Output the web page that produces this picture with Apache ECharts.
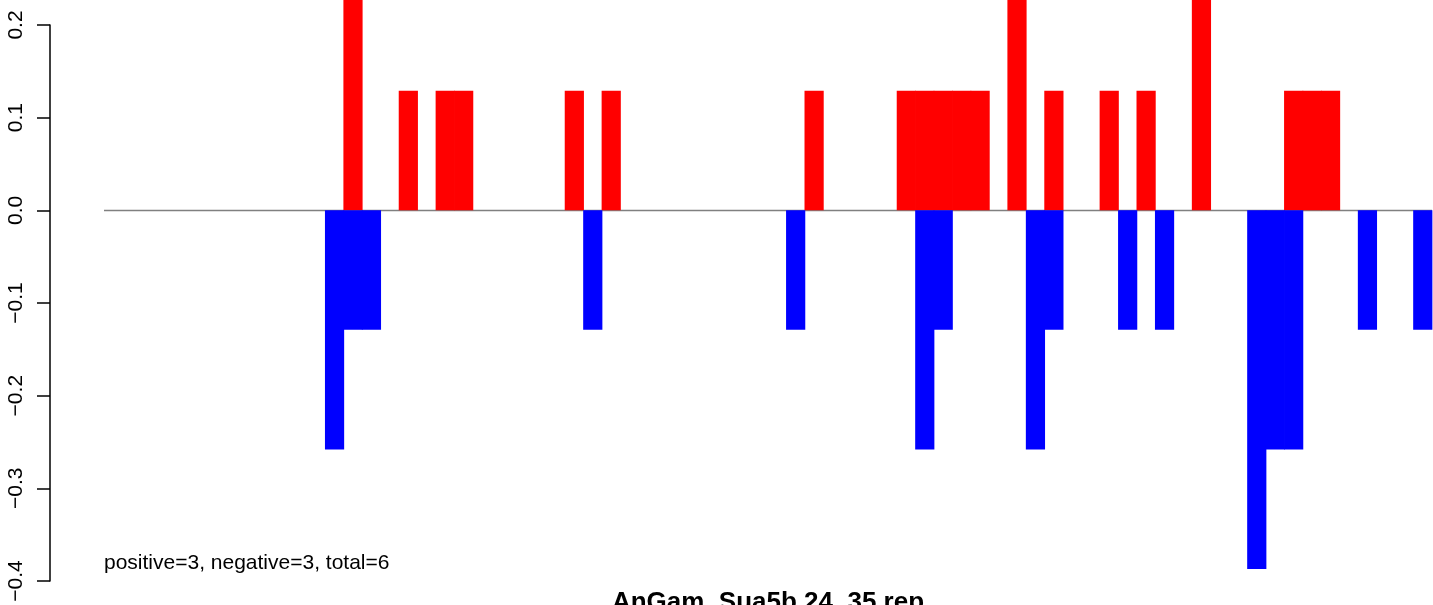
<!DOCTYPE html>
<html>
<head>
<meta charset="utf-8">
<script src="https://cdn.jsdelivr.net/npm/echarts@6/dist/echarts.min.js"></script>
<style>
html,body{margin:0;padding:0;background:#fff;}
#chart{width:1433px;height:605px;}
</style>
</head>
<body>
<div id="chart"></div>
<script>
// 72 positions along the sequence
var positions = [];
for (var i = 0; i < 72; i++) positions.push(String(i + 1));

// positive scores (red): 0-based slot index and height
var positiveSlots = [13,16,18,19,25,27,38,43,44,45,46,47,49,51,54,56,59,64,65,66];
var positiveHeights = [0.258,0.129,0.129,0.129,0.129,0.129,0.129,0.129,0.129,0.129,0.129,0.129,0.258,0.129,0.129,0.129,0.258,0.129,0.129,0.129];

// negative scores (blue)
var negativeSlots = [12,13,14,26,37,44,45,50,51,55,57,62,63,64,68,71];
var negativeHeights = [-0.258,-0.129,-0.129,-0.129,-0.129,-0.258,-0.129,-0.258,-0.129,-0.129,-0.129,-0.387,-0.258,-0.258,-0.129,-0.129];

var yTicks = [-0.4,-0.3,-0.2,-0.1,0.0,0.1,0.2];
var statsText = "positive=3, negative=3, total=6";
var titleText = "AnGam_Sua5b.24_35.rep";

var posData = positions.map(function(){return '-';});
positiveSlots.forEach(function(s, k){ posData[s] = positiveHeights[k]; });
var negData = positions.map(function(){return '-';});
negativeSlots.forEach(function(s, k){ negData[s] = negativeHeights[k]; });

var FONT = '"Liberation Sans", Arial, Helvetica, sans-serif';
var chart = echarts.init(document.getElementById('chart'), null, {renderer: 'canvas'});
chart.setOption({
  animation: false,
  backgroundColor: '#ffffff',
  grid: {left: 104, right: 1, top: 25, bottom: 24, containLabel: false},
  xAxis: {
    type: 'category', data: positions, show: false, boundaryGap: true
  },
  yAxis: {
    type: 'value', min: yTicks[0], max: yTicks[yTicks.length - 1], interval: 0.1, offset: 54,
    axisLine: {show: true, lineStyle: {color: '#000', width: 1.5}},
    axisTick: {show: true, length: 13, lineStyle: {color: '#000', width: 1.5}},
    splitLine: {show: false},
    axisLabel: {
      rotate: 90, margin: 23, color: '#000', fontSize: 21, fontFamily: FONT,
      formatter: function(v){ return v.toFixed(1).replace('-', '\u2212'); }
    }
  },
  series: [
    {
      type: 'bar', data: posData, barWidth: 19.2, barGap: '-100%',
      clip: false, itemStyle: {color: '#ff0000'}, z: 3,
      markLine: {
        silent: true, symbol: 'none', label: {show: false},
        lineStyle: {color: '#808080', width: 1.3, type: 'solid'},
        data: [{yAxis: 0}], z: 1
      }
    },
    {
      type: 'bar', data: negData, barWidth: 19.2, barGap: '-100%',
      clip: false, itemStyle: {color: '#0000ff'}, z: 3
    }
  ],
  graphic: [
    {type: 'text', left: 104, top: 553, style: {text: statsText, font: '21px ' + FONT, fill: '#000'}},
    {type: 'text', x: 768, y: 603, style: {text: titleText, font: 'bold 26px ' + FONT, fill: '#000', align: 'center', verticalAlign: 'middle'}}
  ]
});
</script>
</body>
</html>
